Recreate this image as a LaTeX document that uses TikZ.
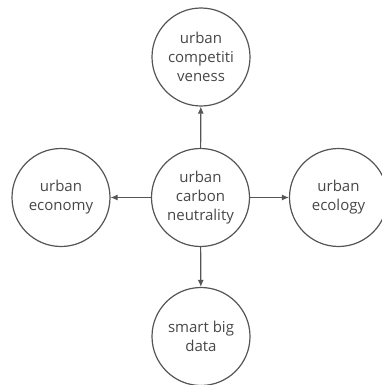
\documentclass[tikz,border=0pt]{standalone}
\usepackage{fontspec}
\setmainfont{Open Sans}
\usetikzlibrary{arrows.meta}
\definecolor{ink}{HTML}{474747}
\definecolor{edge}{HTML}{555555}
\begin{document}
\begin{tikzpicture}[x=1pt,y=-1pt,
  bubble/.style={circle,draw=edge,line width=1.2pt,minimum size=98pt,inner sep=0pt,
    text=ink,align=center,font=\fontsize{15}{19}\selectfont},
  link/.style={draw=edge,line width=1.1pt,-{Latex[length=7pt,width=6pt]}}]
\useasboundingbox (0,0) rectangle (381,385);
\node[bubble] (c) at (200.5,197.5) {urban\\carbon\\neutrality};
\node[bubble] (t) at (201,57) {urban\\competiti\\veness};
\node[bubble] (l) at (61,197.5) {urban\\economy};
\node[bubble] (r) at (338.5,197.5) {urban\\ecology};
\node[bubble] (b) at (201,336.5) {smart big\\data};
\draw[link] (c) -- (t);
\draw[link] (c) -- (l);
\draw[link] (c) -- (r);
\draw[link] (c) -- (b);
\end{tikzpicture}
\end{document}
